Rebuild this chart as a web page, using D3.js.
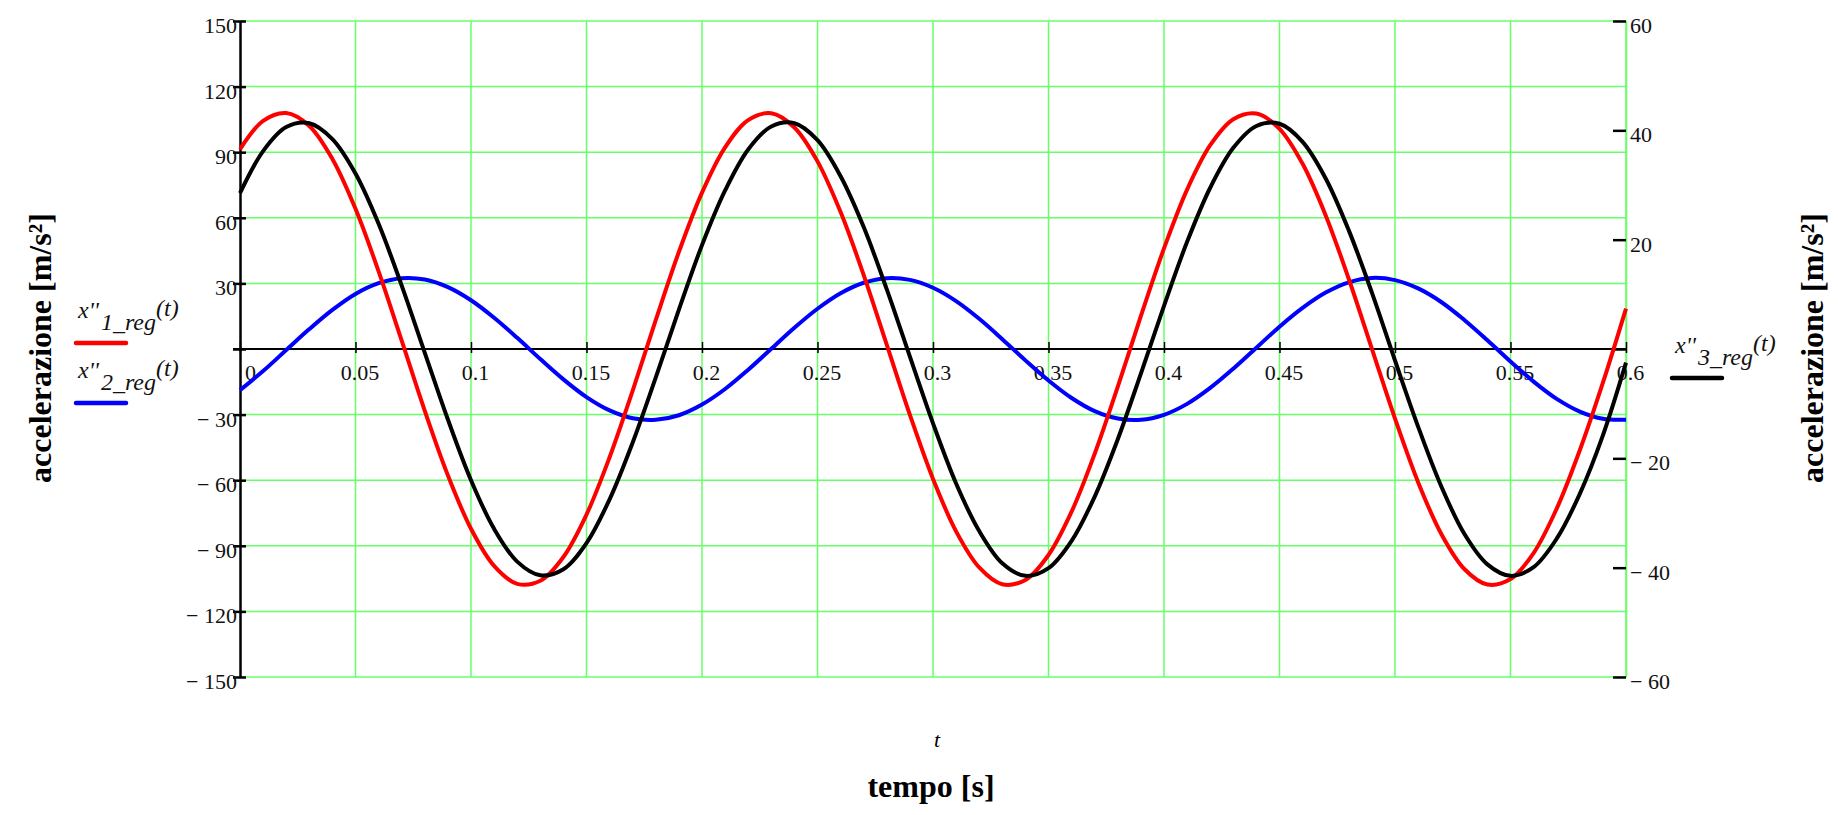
<!DOCTYPE html>
<html>
<head>
<meta charset="utf-8">
<script src="https://cdn.jsdelivr.net/npm/d3@7"></script>
<style>
    body { margin: 0; background: #fff; }
    svg { display: block; font-family: "Liberation Serif", "Times New Roman", serif; }
</style>
</head>
<body>
<svg></svg>
<script>
// Time samples [s]
const tValues = [0, 0.01, 0.02, 0.03, 0.04, 0.05, 0.06, 0.07, 0.08, 0.09,
    0.1, 0.11, 0.12, 0.13, 0.14, 0.15, 0.16, 0.17, 0.18, 0.19,
    0.2, 0.21, 0.22, 0.23, 0.24, 0.25, 0.26, 0.27, 0.28, 0.29,
    0.3, 0.31, 0.32, 0.33, 0.34, 0.35, 0.36, 0.37, 0.38, 0.39,
    0.4, 0.41, 0.42, 0.43, 0.44, 0.45, 0.46, 0.47, 0.48, 0.49,
    0.5, 0.51, 0.52, 0.53, 0.54, 0.55, 0.56, 0.57, 0.58, 0.59, 0.6]

// x''1_reg(t), left axis
const x1Values = [91.3, 104.3, 107.9, 102.0, 86.9, 64.1, 35.5, 3.8, -28.3, -57.8,
    -82.2, -99.2, -107.4, -106.0, -95.1, -75.7, -49.5, -19.0, 13.3, 44.4,
    71.5, 92.2, 104.7, 107.8, 101.3, 85.8, 62.6, 33.8, 1.9, -30.1,
    -59.4, -83.4, -99.9, -107.6, -105.6, -94.2, -74.4, -47.9, -17.2, 15.1,
    46.0, 72.9, 93.2, 105.1, 107.7, 100.7, 84.7, 61.1, 32.0, 0.1,
    -31.8, -60.9, -84.5, -100.6, -107.7, -105.2, -93.3, -73.0, -46.3, -15.4, 18.5]

// x''2_reg(t), left axis
const x2Values = [-18.8, -10.1, -0.5, 9.1, 17.9, 25.2, 30.1, 32.4, 31.8, 28.3,
    22.3, 14.3, 5.1, -4.6, -13.9, -22.0, -28.1, -31.7, -32.4, -30.3,
    -25.4, -18.3, -9.5, 0.1, 9.7, 18.4, 25.5, 30.3, 32.4, 31.6,
    28.0, 21.9, 13.8, 4.5, -5.2, -14.4, -22.4, -28.4, -31.8, -32.4,
    -30.1, -25.1, -17.8, -9.0, 0.6, 10.2, 18.8, 25.8, 30.5, 32.5,
    31.5, 27.7, 21.5, 13.3, 4.0, -5.7, -14.9, -22.8, -28.6, -31.9, -32.3]

// x''3_reg(t), right axis
const x3Values = [28.5, 36.2, 40.6, 41.3, 38.4, 32.1, 22.9, 11.6, -0.7, -12.9,
    -24.0, -32.9, -38.9, -41.4, -40.3, -35.5, -27.5, -17.1, -5.2, 7.2,
    19.0, 29.0, 36.5, 40.7, 41.3, 38.2, 31.6, 22.3, 10.9, -1.4,
    -13.6, -24.6, -33.3, -39.2, -41.5, -40.1, -35.1, -27.0, -16.5, -4.5,
    7.9, 19.6, 29.5, 36.8, 40.8, 41.2, 37.9, 31.2, 21.7, 10.3,
    -2.1, -14.2, -25.1, -33.8, -39.4, -41.5, -39.9, -34.7, -26.5, -15.8, -2.5]

// Ticks
const xTicks = [0, 0.05, 0.1, 0.15, 0.2, 0.25, 0.3, 0.35, 0.4, 0.45, 0.5, 0.55, 0.6]
const leftTicks = [-150, -120, -90, -60, -30, 0, 30, 60, 90, 120, 150]
const rightTicks = [-60, -40, -20, 0, 20, 40, 60]

const width = 1838
const height = 815

const svg = d3.select("svg")
    .attr("width", width)
    .attr("height", height)

const plot = { left: 240, right: 1626, top: 21, bottom: 677 }
const grid = "#66ff66"

// Scales
const xScale = d3.scaleLinear().domain([0, 0.6]).range([plot.left, plot.right])
const yLeft = d3.scaleLinear().domain([-150, 150]).range([plot.bottom, plot.top])
const yRight = d3.scaleLinear().domain([-60, 60]).range([plot.bottom, plot.top])

const fmtNum = d => d < 0 ? "\u2212 " + (-d) : d === 0 ? "" : String(d)

// Grid
svg.append("g").selectAll("line").data(leftTicks.filter(d => d !== 0))
    .enter().append("line")
    .attr("x1", plot.left).attr("x2", plot.right)
    .attr("y1", d => yLeft(d)).attr("y2", d => yLeft(d))
    .attr("stroke", grid).attr("stroke-width", 1.5)

svg.append("g").selectAll("line").data(xTicks.filter(d => d !== 0))
    .enter().append("line")
    .attr("x1", d => xScale(d)).attr("x2", d => xScale(d))
    .attr("y1", plot.top).attr("y2", plot.bottom)
    .attr("stroke", grid).attr("stroke-width", 1.5)

// Zero line
svg.append("line")
    .attr("x1", plot.left - 7).attr("x2", plot.right + 1)
    .attr("y1", yLeft(0)).attr("y2", yLeft(0))
    .attr("stroke", "#000").attr("stroke-width", 2)

// Left axis
const leftAxisG = svg.append("g")
    .attr("transform", `translate(${plot.left}, 0)`)
    .call(d3.axisLeft(yLeft).tickValues(leftTicks).tickSizeOuter(0).tickFormat(fmtNum))
leftAxisG.select(".domain").attr("stroke-width", 2.5)
leftAxisG.selectAll(".tick line").attr("x1", 6).attr("x2", -7).attr("stroke-width", 2.5)
leftAxisG.selectAll(".tick text")
    .attr("x", -3).attr("dy", "0.52em")
    .attr("font-size", "22px").attr("font-family", "Liberation Serif").attr("fill", "#111")

// Right axis
const rightAxisG = svg.append("g")
    .attr("transform", `translate(${plot.right}, 0)`)
    .call(d3.axisRight(yRight).tickValues(rightTicks).tickSizeOuter(0)
        .tickSizeInner(-13).tickPadding(4).tickFormat(fmtNum))
rightAxisG.select(".domain").attr("stroke", grid).attr("stroke-width", 1.5)
rightAxisG.selectAll(".tick line").attr("stroke-width", 2.5)
rightAxisG.selectAll(".tick text")
    .attr("dy", "0.52em")
    .attr("font-size", "22px").attr("font-family", "Liberation Serif").attr("fill", "#111")

// Bottom axis on the zero line
const xAxisG = svg.append("g")
    .attr("transform", `translate(0, ${yLeft(0)})`)
    .call(d3.axisBottom(xScale).tickValues(xTicks).tickFormat(d => String(+d.toFixed(2))))
xAxisG.select(".domain").remove()
xAxisG.selectAll(".tick line").attr("y1", -7).attr("y2", 4).attr("stroke-width", 1.5)
xAxisG.selectAll(".tick text")
    .attr("x", d => d === 0 ? 10 : 4).attr("y", 31).attr("dy", 0)
    .attr("font-size", "22px").attr("font-family", "Liberation Serif").attr("fill", "#111")

// Curves
const lineLeft = d3.line()
    .x((d, i) => xScale(tValues[i]))
    .y(d => yLeft(d))
    .curve(d3.curveCatmullRom)
const lineRight = d3.line()
    .x((d, i) => xScale(tValues[i]))
    .y(d => yRight(d))
    .curve(d3.curveCatmullRom)

svg.append("path").attr("d", lineLeft(x2Values))
    .attr("fill", "none").attr("stroke", "#0000ff").attr("stroke-width", 4)
svg.append("path").attr("d", lineLeft(x1Values))
    .attr("fill", "none").attr("stroke", "#ff0000").attr("stroke-width", 4)
svg.append("path").attr("d", lineRight(x3Values))
    .attr("fill", "none").attr("stroke", "#000000").attr("stroke-width", 4)

// Legends
const legend = (x, y, num, color, lx1, lx2, ly) => {
    const txt = svg.append("text")
        .attr("x", x).attr("y", y)
        .attr("font-size", "24px").attr("font-style", "italic").attr("fill", "#111")
    txt.append("tspan").text("x''")
    txt.append("tspan").attr("dy", 12).attr("dx", 2).text(num + "_reg")
    txt.append("tspan").attr("dy", -14).text("(t)")
    svg.append("line")
        .attr("x1", lx1).attr("x2", lx2).attr("y1", ly).attr("y2", ly)
        .attr("stroke", color).attr("stroke-width", 4.5).attr("stroke-linecap", "round")
}
legend(78, 318, "1", "#ff0000", 76, 126, 343)
legend(78, 378, "2", "#0000ff", 76, 126, 403)
legend(1675, 353, "3", "#000000", 1672, 1722, 378)

// Axis titles
svg.append("text")
    .attr("transform", "translate(51, 348) rotate(-90)")
    .attr("text-anchor", "middle").attr("font-size", "32px").attr("font-weight", "bold")
    .text("accelerazione [m/s²]")
svg.append("text")
    .attr("transform", "translate(1823, 348) rotate(-90)")
    .attr("text-anchor", "middle").attr("font-size", "32px").attr("font-weight", "bold")
    .text("accelerazione [m/s²]")

svg.append("text")
    .attr("x", 937).attr("y", 747)
    .attr("text-anchor", "middle").attr("font-size", "22px").attr("font-style", "italic")
    .text("t")
svg.append("text")
    .attr("x", 931).attr("y", 797)
    .attr("text-anchor", "middle").attr("font-size", "32px").attr("font-weight", "bold")
    .text("tempo [s]")
</script>
</body>
</html>
